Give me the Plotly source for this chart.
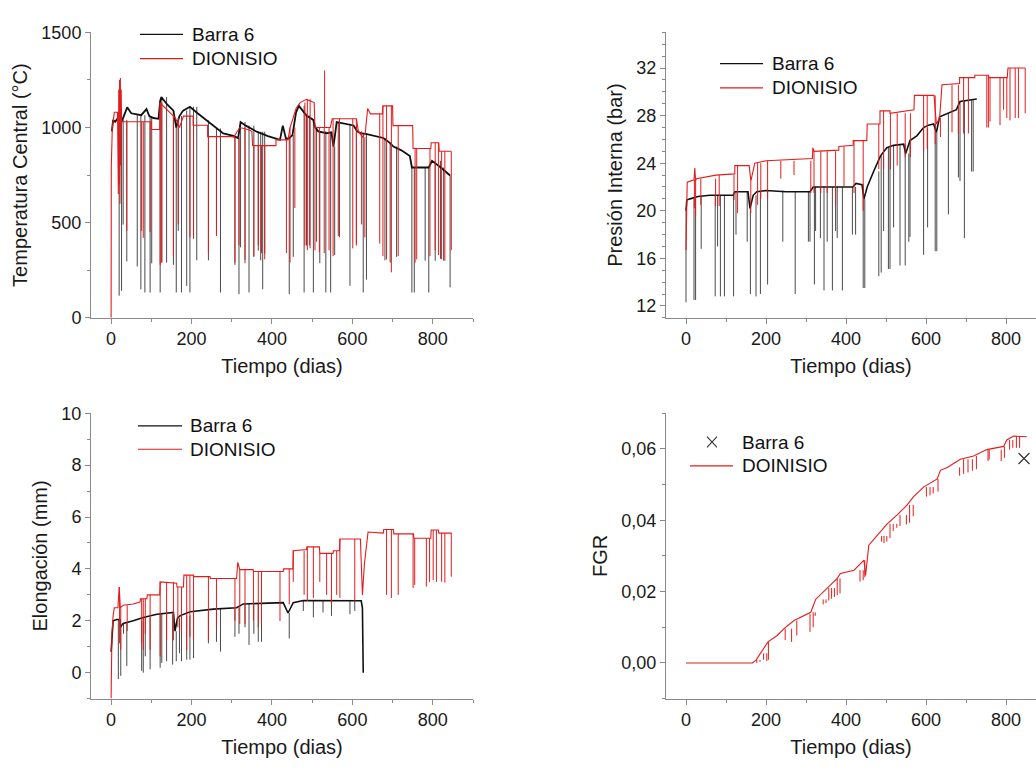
import plotly.graph_objects as go

W, H = 1036, 769

# ---------------- DATA ----------------
# Panel 1: Temperatura Central (°C)
temp_b6_day = [2, 5, 10, 20, 28, 40, 50, 60, 75, 88, 95, 105, 118, 122, 125, 140, 155, 162, 170, 179,
               196, 215, 238, 262, 279, 304, 316, 322, 335, 362, 390, 420, 427, 435, 443, 451, 460, 467,
               486, 503, 507, 515, 536, 548, 553, 561, 586, 603, 612, 620, 636, 660, 677, 694, 702, 722,
               743, 748, 752, 790, 798, 820, 843]
temp_b6_val = [980, 1040, 1030, 1060, 1040, 1106, 1075, 1070, 1065, 1097, 1060, 1050, 1046, 1140, 1160,
               1120, 1089, 1000, 1060, 1089, 1109, 1075, 1038, 995, 969, 956, 944, 1029, 1010, 978, 955,
               935, 1010, 940, 944, 960, 1080, 1114, 1063, 1040, 1004, 980, 970, 975, 900, 1029, 1020,
               1011, 980, 970, 965, 955, 945, 918, 900, 880, 850, 790, 790, 790, 825, 790, 748]
temp_b6_dip_day = [20, 26, 30, 39, 65, 74, 84, 97, 101, 122, 126, 138, 155, 162, 167, 175, 188, 196, 205,
                   213, 242, 262, 272, 308, 318, 322, 333, 343, 355, 366, 372, 377, 382, 443, 453, 480,
                   486, 493, 503, 511, 519, 534, 546, 556, 565, 594, 610, 627, 635, 681, 694, 710, 748,
                   754, 781, 790, 806, 819, 827, 843]
temp_b6_dip_low = [116, 142, 490, 296, 270, 150, 133, 133, 286, 133, 290, 290, 278, 133, 457, 133, 168,
                   133, 422, 302, 302, 440, 133, 278, 124, 370, 287, 133, 320, 353, 302, 150, 337, 124,
                   320, 133, 380, 380, 133, 400, 287, 133, 133, 330, 430, 168, 390, 133, 200, 302, 290,
                   320, 133, 133, 300, 133, 300, 310, 300, 160]
temp_dio_day = [0, 0.5, 3, 8, 16, 18, 19, 20, 21, 22, 23, 24, 25, 26, 28, 100, 100, 121, 122, 150, 160,
                170, 180, 204, 204, 240, 240, 300, 305, 320, 340, 350, 352, 410, 410, 440, 445, 460, 470,
                486, 505, 507, 545, 550, 610, 615, 625, 632, 638, 645, 675, 676, 700, 701, 750, 751, 795,
                796, 815, 816, 846]
temp_dio_val = [0, 800, 1000, 1080, 1080, 650, 1200, 700, 1250, 600, 1260, 800, 1200, 1040, 1030, 1030,
                990, 990, 1130, 1070, 1050, 1000, 1060, 1060, 1012, 1012, 952, 952, 950, 1000, 990, 980,
                905, 905, 935, 935, 1000, 1100, 1131, 1148, 1131, 1000, 1000, 1046, 1046, 980, 950, 970,
                1100, 1072, 1072, 1114, 1114, 1010, 1010, 890, 890, 920, 920, 875, 875]
temp_dio_dip_day = [39, 76, 80, 97, 122, 126, 155, 167, 196, 205, 242, 262, 308, 318, 333, 355, 366, 374,
                    382, 436, 445, 457, 482, 488, 495, 507, 518, 530, 531, 542, 552, 568, 601, 610, 623,
                    631, 668, 676, 685, 697, 714, 756, 760, 793, 806, 814, 822, 830, 846]
temp_dio_dip_low = [457, 457, 420, 450, 278, 290, 324, 491, 423, 415, 340, 430, 290, 380, 307, 324, 380,
                    340, 307, 340, 290, 577, 380, 355, 365, 355, 345, 340, 1300, 355, 324, 423, 365, 380,
                    491, 423, 390, 324, 307, 239, 324, 290, 307, 324, 355, 330, 307, 300, 355]

# Panel 2: Presión Interna (bar)
pres_b6_day = [0, 2, 10, 30, 60, 100, 118, 122, 155, 160, 168, 177, 200, 250, 310, 318, 360, 417, 425,
               440, 445, 453, 469, 486, 502, 519, 544, 549, 560, 577, 594, 606, 619, 626, 634, 656, 676,
               685, 705, 727]
pres_b6_val = [20.0, 20.9, 21.0, 21.2, 21.3, 21.3, 21.3, 21.6, 21.6, 20.2, 21.3, 21.6, 21.7, 21.6, 21.6,
               22.0, 22.0, 22.0, 22.3, 22.2, 21.0, 22.0, 23.3, 24.6, 25.3, 25.5, 25.6, 24.8, 25.9, 26.3,
               27.0, 27.2, 27.3, 26.6, 27.9, 28.2, 28.5, 29.2, 29.3, 29.4]
pres_b6_dip_day = [0, 20, 24, 38, 73, 79, 86, 96, 119, 125, 153, 161, 175, 186, 204, 242, 273, 306, 310,
                   321, 324, 336, 345, 353, 366, 374, 378, 391, 416, 424, 443, 447, 482, 488, 494, 506,
                   510, 519, 535, 548, 557, 560, 594, 604, 623, 627, 656, 681, 685, 696, 714, 718]
pres_b6_dip_low = [12.3, 12.5, 12.5, 16.8, 12.8, 17.0, 12.8, 12.8, 12.8, 18.0, 17.4, 13.0, 12.8, 13.0,
                   13.8, 17.4, 13.0, 17.4, 17.4, 13.8, 18.3, 17.7, 13.3, 17.4, 13.3, 18.3, 17.7, 13.3,
                   18.0, 18.0, 13.5, 13.5, 14.5, 14.8, 18.3, 15.1, 15.1, 18.6, 15.4, 15.4, 17.4, 17.8,
                   16.3, 18.6, 16.6, 16.6, 19.7, 22.8, 22.5, 17.7, 23.3, 23.3]
pres_dio_day = [0, 1, 3, 20, 22, 24, 26, 75, 122, 122, 158, 162, 172, 200, 316, 317, 320, 382, 382, 418,
                418, 452, 453, 485, 485, 510, 510, 570, 571, 620, 626, 634, 640, 684, 684, 722, 722, 756,
                758, 803, 805, 848]
pres_dio_val = [16.7, 21.5, 22.4, 22.6, 23.6, 22.5, 22.7, 23.0, 23.1, 23.8, 23.8, 22.5, 24.0, 24.2, 24.4,
                25.3, 25.0, 25.1, 25.4, 25.5, 25.9, 25.9, 27.3, 27.3, 28.4, 28.4, 28.2, 28.5, 29.7, 29.7,
                27.3, 27.8, 30.6, 30.7, 31.2, 31.2, 31.4, 31.4, 31.2, 31.2, 32.0, 32.0]
pres_dio_dip_day = [21, 24, 37, 74, 83, 120, 129, 162, 179, 187, 204, 237, 270, 312, 320, 337, 353, 374,
                    395, 420, 443, 482, 494, 511, 528, 548, 561, 594, 603, 623, 636, 665, 681, 694, 706,
                    752, 756, 760, 785, 794, 802, 810, 823, 831, 848]
pres_dio_dip_low = [20.2, 19.5, 20.5, 20.4, 20.4, 20.9, 19.8, 19.8, 20.5, 21.0, 21.0, 22.7, 23.0, 21.5,
                    21.5, 21.5, 21.5, 20.5, 22.0, 21.5, 20.0, 23.5, 23.5, 23.5, 23.8, 24.5, 24.5, 25.0,
                    25.2, 25.6, 26.2, 26.6, 26.5, 26.5, 26.5, 27.0, 27.0, 27.5, 27.2, 28.5, 27.8, 27.6,
                    27.8, 27.8, 28.2]

# Panel 3: Elongación (mm)
elon_b6_day = [0, 5, 14, 22, 23, 30, 55, 80, 114, 155, 159, 165, 172, 197, 254, 312, 329, 387, 428, 440,
               453, 478, 594, 622, 625, 627]
elon_b6_val = [0.8, 2.0, 2.05, 2.05, 1.75, 1.9, 2.0, 2.13, 2.25, 2.32, 1.6, 2.1, 2.2, 2.35, 2.45, 2.5,
               2.65, 2.67, 2.7, 2.3, 2.7, 2.78, 2.78, 2.77, 2.5, 0.0]
elon_b6_dip_day = [18, 24, 31, 39, 76, 80, 85, 97, 122, 126, 138, 153, 162, 170, 175, 188, 196, 205, 242,
                   262, 272, 308, 318, 333, 343, 355, 366, 374, 443, 478, 503, 527, 548, 594, 606]
elon_b6_dip_low = [-0.25, -0.12, 1.5, 0.26, 0.07, 0.0, 0.63, 0.13, 0.19, 0.38, 0.44, 0.31, 0.44, 0.75,
                   0.44, 0.5, 0.5, 0.56, 1.13, 1.19, 0.81, 1.38, 1.5, 1.75, 1.07, 1.5, 1.19, 1.19, 1.32,
                   2.38, 2.13, 2.32, 2.19, 2.25, 2.38]
elon_dio_day = [0, 2, 5, 8, 17, 20, 23, 30, 55, 72, 73, 89, 90, 121, 122, 163, 164, 180, 181, 205, 206,
                246, 247, 312, 315, 320, 353, 354, 428, 429, 452, 453, 486, 487, 518, 519, 552, 553, 568,
                569, 620, 625, 630, 639, 677, 678, 702, 703, 752, 753, 795, 796, 814, 815, 847]
elon_dio_val = [-1.0, 1.5, 2.2, 2.5, 2.5, 3.3, 2.5, 2.6, 2.65, 2.72, 2.85, 2.85, 3.0, 3.0, 3.5, 3.45, 3.3,
                3.3, 3.76, 3.76, 3.7, 3.7, 3.63, 3.63, 4.25, 3.97, 3.97, 3.9, 3.9, 4.0, 4.0, 4.7, 4.75,
                4.85, 4.85, 4.6, 4.6, 4.7, 4.7, 5.15, 5.15, 3.0, 4.2, 5.42, 5.38, 5.52, 5.52, 5.35, 5.35,
                5.18, 5.18, 5.5, 5.5, 5.38, 5.38]
elon_dio_dip_day = [21, 24, 40, 76, 80, 85, 97, 122, 138, 155, 166, 175, 188, 196, 205, 242, 262, 308,
                    320, 333, 354, 366, 374, 420, 443, 453, 480, 488, 503, 519, 536, 548, 561, 569, 606,
                    685, 697, 714, 751, 755, 784, 792, 801, 809, 822, 830, 846]
elon_dio_dip_low = [1.13, 0.88, 1.6, 1.13, 0.88, 1.5, 0.88, 0.63, 1.25, 1.25, 1.75, 1.5, 0.88, 1.38, 1.25,
                    1.25, 1.75, 2.0, 1.88, 1.88, 2.0, 1.75, 1.94, 1.99, 2.63, 3.5, 3.0, 2.76, 2.88, 3.5,
                    3.0, 2.63, 3.0, 2.88, 2.76, 3.0, 2.88, 3.0, 3.26, 3.38, 3.32, 3.5, 3.57, 3.5, 3.5,
                    3.47, 3.7]

# Panel 4: FGR
fgr_dio_day = [0, 166, 175, 187, 205, 228, 245, 270, 303, 312, 324, 353, 378, 386, 420, 445, 449, 457,
               478, 503, 528, 553, 569, 594, 628, 636, 653, 686, 719, 752, 794, 802, 819, 852]
fgr_dio_val = [0.0, 0.0, 0.0008, 0.0027, 0.0059, 0.0077, 0.0096, 0.0119, 0.0137, 0.0142, 0.0178, 0.021,
               0.0237, 0.0251, 0.026, 0.0288, 0.0245, 0.033, 0.0356, 0.039, 0.0415, 0.0443, 0.0466,
               0.0493, 0.0516, 0.054, 0.0548, 0.0571, 0.058, 0.0598, 0.0607, 0.0625, 0.0636, 0.0634]
fgr_dio_dip_day = [177, 185, 194, 202, 206, 248, 264, 277, 310, 318, 323, 343, 350, 357, 364, 371, 378,
                   385, 435, 443, 447, 455, 489, 495, 502, 510, 518, 527, 535, 551, 559, 568, 601, 610,
                   618, 630, 684, 694, 705, 716, 726, 755, 758, 788, 796, 809, 817, 826, 834]
fgr_dio_dip_low = [0.0, 0.0003, 0.0009, 0.0005, 0.0009, 0.0064, 0.0059, 0.0077, 0.0087, 0.0100, 0.0132,
                   0.0164, 0.0168, 0.0175, 0.0180, 0.0185, 0.0190, 0.0195, 0.0228, 0.0232, 0.0240,
                   0.0245, 0.0340, 0.0336, 0.0340, 0.0350, 0.0370, 0.0379, 0.0384, 0.0388, 0.0393,
                   0.0411, 0.0466, 0.0470, 0.0475, 0.0480, 0.0525, 0.0530, 0.0534, 0.0539, 0.0543,
                   0.0566, 0.0570, 0.0566, 0.0575, 0.0598, 0.0603, 0.0603, 0.0603]
fgr_b6_day = [845]
fgr_b6_val = [0.0573]

# tick labels
fgr_tickvals = [0.0, 0.02, 0.04, 0.06]
fgr_ticktext = ["0,00", "0,02", "0,04", "0,06"]

# ---------------- STYLE ----------------
FONT = "Arial, Liberation Sans, sans-serif"
AXC = "#8a8a8a"
RED = "rgb(226,28,28)"
BLK = "#111111"
DIPBLK = "#4a4a4a"

XL = [91 / W, 473 / W]
XR = [666 / W, 1.0]
YT = [1 - 316 / H, 1 - 23 / H]
YB = [1 - 707 / H, 1 - 414 / H]


def hold(days, vals, d):
    v = vals[0]
    for x, y in zip(days, vals):
        if x <= d:
            v = y
        else:
            break
    return v


def dip_xy(days, vals, dip_days, dip_lows):
    xs, ys = [], []
    for d, lo in zip(dip_days, dip_lows):
        top = hold(days, vals, d)
        xs += [d, d, None]
        ys += [top, lo, None]
    return xs, ys


fig = go.Figure()


def add_series(days, vals, ddays, dlows, color, dipcolor, width, xa, ya):
    dx, dy = dip_xy(days, vals, ddays, dlows)
    fig.add_trace(go.Scatter(x=dx, y=dy, mode="lines", xaxis=xa, yaxis=ya, showlegend=False,
                             line=dict(color=dipcolor, width=1)))
    fig.add_trace(go.Scatter(x=days, y=vals, mode="lines", xaxis=xa, yaxis=ya, showlegend=False,
                             line=dict(color=color, width=width)))


add_series(temp_b6_day, temp_b6_val, temp_b6_dip_day, temp_b6_dip_low, BLK, DIPBLK, 1.8, "x", "y")
add_series(temp_dio_day, temp_dio_val, temp_dio_dip_day, temp_dio_dip_low, RED, RED, 1.1, "x", "y")
add_series(pres_b6_day, pres_b6_val, pres_b6_dip_day, pres_b6_dip_low, BLK, DIPBLK, 1.6, "x2", "y2")
add_series(pres_dio_day, pres_dio_val, pres_dio_dip_day, pres_dio_dip_low, RED, RED, 1.1, "x2", "y2")
add_series(elon_b6_day, elon_b6_val, elon_b6_dip_day, elon_b6_dip_low, BLK, DIPBLK, 1.6, "x3", "y3")
add_series(elon_dio_day, elon_dio_val, elon_dio_dip_day, elon_dio_dip_low, RED, RED, 1.1, "x3", "y3")
add_series(fgr_dio_day, fgr_dio_val, fgr_dio_dip_day, fgr_dio_dip_low, RED, RED, 1.1, "x4", "y4")
fig.add_trace(go.Scatter(x=fgr_b6_day, y=fgr_b6_val, mode="markers", xaxis="x4", yaxis="y4",
                         showlegend=False,
                         marker=dict(symbol="x-thin", size=11, line=dict(color="#333333", width=1.2))))

tickfont = dict(family=FONT, size=18, color="#1a1a1a")
titlefont = dict(family=FONT, size=20, color="#1a1a1a")


def xaxis(domain, anchor, rng):
    return dict(domain=domain, anchor=anchor, range=rng, showline=True, linecolor=AXC, linewidth=1,
                ticks="outside", ticklen=5, tickcolor=AXC, tick0=0, dtick=200,
                minor=dict(ticks="outside", ticklen=3, tickcolor=AXC, dtick=100, tick0=0),
                showgrid=False, zeroline=False, tickfont=tickfont,
                title=dict(text="Tiempo (dias)", font=titlefont, standoff=10))


def yaxis(domain, anchor, rng, dtick, mdtick, title, **kw):
    d = dict(domain=domain, anchor=anchor, range=rng, showline=True, linecolor=AXC, linewidth=1,
             ticks="outside", ticklen=5, tickcolor=AXC, tick0=0, dtick=dtick,
             minor=dict(ticks="outside", ticklen=3, tickcolor=AXC, dtick=mdtick, tick0=0),
             showgrid=False, zeroline=False, tickfont=tickfont,
             title=dict(text=title, font=titlefont, standoff=8))
    d.update(kw)
    return d


fig.update_layout(
    width=W, height=H, margin=dict(l=0, r=0, t=0, b=0),
    paper_bgcolor="white", plot_bgcolor="white", showlegend=False,
    font=dict(family=FONT, color="#1a1a1a"),
    xaxis=xaxis(XL, "y", [-50, 900]),
    yaxis=yaxis(YT, "x", [0, 1500], 500, 250, "Temperatura Central (°C)"),
    xaxis2=xaxis(XR, "y2", [-50, 875]),
    yaxis2=yaxis(YT, "x2", [11, 35], 4, 1, "Presión Interna (bar)"),
    xaxis3=xaxis(XL, "y3", [-50, 900]),
    yaxis3=yaxis(YB, "x3", [-1, 10], 2, 1, "Elongación (mm)"),
    xaxis4=xaxis(XR, "y4", [-50, 875]),
    yaxis4=yaxis(YB, "x4", [-0.01, 0.07], None, 0.01, "FGR",
                 tickmode="array", tickvals=fgr_tickvals, ticktext=fgr_ticktext),
)

# manual legends (pixel positions -> paper)
def px(x):
    return x / W


def py(y):
    return 1 - y / H


legend_items = [
    # (line x0, x1, y, color, label, text x)
    (140, 183, 25, BLK, "Barra 6", 190),
    (140, 183, 50, RED, "DIONISIO", 190),
    (720, 763, 55, BLK, "Barra 6", 770),
    (720, 763, 80, RED, "DIONISIO", 770),
    (138, 182, 427, BLK, "Barra 6", 188),
    (138, 182, 451, RED, "DIONISIO", 188),
    (690, 733, 468, RED, "DOINISIO", 740),
]
for x0, x1, y, c, lab, tx in legend_items:
    fig.add_shape(type="line", xref="paper", yref="paper", x0=px(x0), x1=px(x1), y0=py(y), y1=py(y),
                  line=dict(color=c, width=1.2))
    fig.add_annotation(xref="paper", yref="paper", x=px(tx), y=py(y), text=lab, showarrow=False,
                       xanchor="left", yanchor="middle", font=dict(family=FONT, size=19, color="#111111"))

# legend entry with × marker for Barra 6 (FGR panel)
for (a, b, c, d) in [(707, 438, 717, 449), (707, 449, 717, 438)]:
    fig.add_shape(type="line", xref="paper", yref="paper", x0=px(a), y0=py(b), x1=px(c), y1=py(d),
                  line=dict(color="#333333", width=1.1))
fig.add_annotation(xref="paper", yref="paper", x=px(740), y=py(444), text="Barra 6", showarrow=False,
                   xanchor="left", yanchor="middle", font=dict(family=FONT, size=19, color="#111111"))

fig.write_html(
    "out.html",
    config={"displayModeBar": False},
    post_script=("document.documentElement.style.margin='0';document.documentElement.style.padding='0';"
                 "document.body.style.margin='0';document.body.style.padding='0';"
                 "document.body.style.overflow='hidden';"),
)
